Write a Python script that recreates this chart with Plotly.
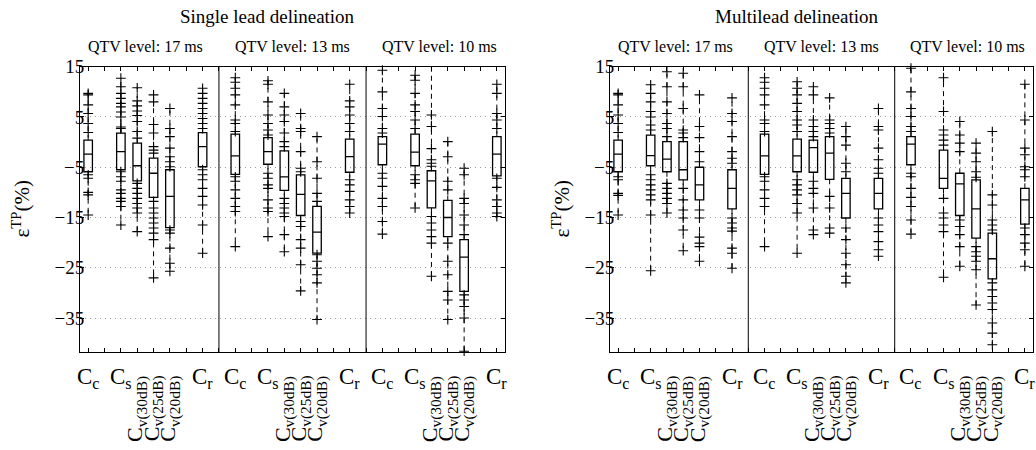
import plotly.graph_objects as go

# ---------------- data ----------------
PANEL_TITLES = ["Single lead delineation", "Multilead delineation"]
LEVELS = ["QTV level: 17 ms", "QTV level: 13 ms", "QTV level: 10 ms"]
METHODS = ["C<sub>c</sub>", "C<sub>s</sub>", "C<sub>v(30dB)</sub>",
           "C<sub>v(25dB)</sub>", "C<sub>v(20dB)</sub>", "C<sub>r</sub>"]
ROTATED = [False, False, True, True, True, False]
SLOTS = [1, 3, 4, 5, 6, 8]
GROUP_WIDTH = 9
Y_TICKS = [-35, -25, -15, -5, 5, 15]

# order: 17 ms [Cc, Cs, Cv30, Cv25, Cv20, Cr], 13 ms [...], 10 ms [...]
SINGLE_Q1 = [-5.9, -5.5, -7.7, -11.0, -17.0, -4.9,
             -6.4, -4.4, -9.6, -14.6, -22.1, -6.0,
             -4.5, -4.7, -13.1, -18.8, -29.7, -6.7]
SINGLE_MED = [-2.4, -1.9, -4.7, -6.2, -10.8, -0.9,
              -2.75, -1.9, -6.9, -10.4, -17.9, -2.9,
              -0.4, -2.0, -7.7, -15.0, -22.9, -2.4]
SINGLE_Q3 = [0.4, 1.8, -0.2, -3.2, -5.5, 1.9,
             1.6, 0.9, -1.75, -6.5, -12.8, 0.6,
             1.1, 1.6, -5.7, -11.6, -19.4, 1.1]
SINGLE_OUT = [
    [9.7, 9.4, 7.4, 5.7, 3.7, 1.9, -6.5, -7.2, -10.0, -10.5, -14.5],
    [12.7, 11.0, 9.7, 8.7, 7.7, 7.0, 6.0, 5.0, 3.0, 2.7, -5.9, -6.9, -7.8, -9.5, -10.2, -11.2, -11.8, -12.8, -16.5],
    [10.8, 8.2, 7.2, 6.2, 5.3, 4.1, 2.1, 0.8, -8.2, -9.2, -10.2, -11.2, -12.2, -13.1, -14.1, -17.8],
    [9.4, 8.0, 3.5, 1.8, -0.9, -1.6, -2.2, -11.8, -13.1, -14.1, -15.1, -16.1, -17.1, -18.1, -19.4, -27.0],
    [6.7, 2.7, 1.1, -1.2, -2.9, -3.9, -4.9, -17.5, -18.1, -21.1, -24.1, -25.7],
    [10.7, 9.7, 8.7, 7.7, 6.7, 5.7, 4.7, 3.7, 2.7, -5.5, -6.5, -7.5, -9.2, -10.8, -12.5, -16.5, -22.1],
    [12.8, 11.9, 10.7, 9.4, 7.4, 4.4, 3.7, 2.1, -6.9, -7.8, -9.5, -11.2, -12.8, -13.8, -20.8],
    [12.2, 11.5, 8.0, 5.4, 3.7, 2.4, 1.4, -6.2, -7.2, -8.5, -9.2, -11.5, -13.1, -13.8, -18.8],
    [9.7, 7.0, 5.4, 4.1, 1.8, 0.1, -0.9, -11.2, -12.2, -13.1, -14.1, -14.8, -18.4, -21.8],
    [5.7, 2.7, 2.1, -1.9, -5.2, -5.9, -15.8, -16.8, -19.4, -21.1, -24.4, -29.6],
    [1.1, -3.9, -7.2, -10.2, -11.8, -22.4, -23.7, -25.1, -26.4, -28.0, -35.3],
    [11.5, 8.2, 7.0, 5.4, 3.7, 2.1, -7.5, -8.5, -9.8, -11.5, -12.8, -14.1],
    [14.3, 10.0, 6.7, 5.1, 2.7, 1.8, -6.2, -7.2, -8.8, -11.2, -12.8, -15.8, -18.3],
    [13.3, 12.3, 9.7, 7.4, 6.1, 4.4, 2.7, -6.5, -7.5, -8.2, -13.1],
    [15.3, 5.4, 3.1, -1.3, -3.5, -4.2, -4.8, -14.8, -16.1, -17.5, -18.8, -20.1, -26.7],
    [0.1, -2.9, -7.8, -9.5, -20.1, -23.7, -26.4, -29.7, -31.4, -35.3],
    [-5.2, -6.5, -11.2, -12.2, -14.5, -16.5, -18.4, -30.4, -31.4, -32.7, -35.0, -41.6],
    [11.5, 9.7, 5.7, 4.4, 2.7, -7.2, -9.0, -11.5, -12.8, -14.1, -14.8],
]

MULTI_Q1 = [-5.9, -4.7, -5.9, -7.5, -11.5, -13.3,
            -6.4, -5.9, -6.0, -7.4, -15.1, -13.3,
            -4.5, -9.2, -14.6, -19.1, -27.2, -16.3]
MULTI_MED = [-2.4, -2.7, -3.4, -5.5, -8.5, -9.2,
             -2.75, -2.75, -1.1, -2.2, -10.2, -10.2,
             -0.4, -7.2, -8.3, -13.3, -23.2, -11.5]
MULTI_Q3 = [0.4, 1.4, 0.1, 0.1, -5.0, -5.5,
            1.6, 0.6, 0.4, 1.1, -7.2, -7.2,
            1.1, -1.6, -6.2, -7.5, -18.1, -9.2]
MULTI_OUT = [
    [9.7, 9.4, 7.4, 5.4, 3.7, 1.9, -6.9, -7.5, -10.2, -10.6, -14.5],
    [11.4, 9.7, 8.0, 6.1, 5.0, 3.4, 2.4, -6.5, -7.5, -8.5, -9.5, -10.5, -11.5, -14.5, -25.6],
    [14.0, 11.0, 8.0, 5.7, 3.7, 2.7, 1.1, -8.2, -9.2, -10.2, -11.2, -12.2, -14.1],
    [13.7, 11.0, 6.7, 2.4, 1.8, 0.9, -9.2, -11.5, -13.5, -15.1, -17.5, -21.6],
    [9.4, 3.1, 0.9, -1.9, -3.9, -13.5, -15.1, -18.9, -20.1, -20.8, -23.7],
    [8.8, 5.7, 4.1, 1.1, -1.9, -3.2, -4.2, -15.1, -16.1, -17.1, -17.7, -21.1, -22.1, -25.1],
    [12.8, 11.9, 10.7, 9.4, 7.4, 4.4, 3.7, 2.1, -6.9, -7.8, -9.5, -11.2, -12.8, -20.8],
    [12.0, 10.7, 9.4, 7.7, 6.1, 4.4, 3.4, 2.1, -7.5, -8.5, -9.5, -10.5, -12.2, -14.1, -22.1],
    [11.0, 9.4, 4.4, 3.1, 2.1, 1.1, -7.8, -9.2, -10.2, -13.1, -17.5, -18.4],
    [8.8, 4.4, 3.7, 2.7, 1.8, -10.8, -13.1, -17.1, -18.1],
    [3.1, 1.1, -0.6, -4.2, -5.9, -17.1, -19.4, -22.1, -24.4, -26.7, -28.0],
    [6.7, 3.1, 2.4, -1.2, -3.5, -5.2, -6.2, -15.1, -16.5, -17.8, -19.8, -21.4, -22.7],
    [14.7, 10.0, 6.7, 5.1, 3.1, 2.1, -6.2, -6.9, -9.2, -11.0, -12.8, -15.5, -18.3],
    [12.8, 6.1, 2.4, 1.4, 0.4, -0.6, -11.2, -14.1, -15.1, -16.5, -17.8, -26.9],
    [4.1, 1.4, -0.2, -1.9, -15.5, -16.8, -18.4, -20.8, -24.7],
    [-0.2, -2.2, -3.9, -5.9, -7.0, -20.8, -21.8, -22.7, -23.7, -25.4, -32.4],
    [2.1, -10.5, -12.5, -15.5, -16.5, -17.5, -28.0, -29.4, -30.7, -32.0, -33.3, -36.0, -38.0, -40.3],
    [11.5, 4.4, -1.2, -2.5, -4.9, -5.5, -6.9, -17.1, -18.4, -20.1, -21.4, -24.7],
]

# ---------------- layout helpers ----------------
W, H = 1036, 450
FONT = "Liberation Serif, Times New Roman, serif"
PANELS = [
    dict(title=PANEL_TITLES[0], q1=SINGLE_Q1, med=SINGLE_MED, q3=SINGLE_Q3, out=SINGLE_OUT,
         xpx=(80, 505), title_x=267, ylab_x=21),
    dict(title=PANEL_TITLES[1], q1=MULTI_Q1, med=MULTI_MED, q3=MULTI_Q3, out=MULTI_OUT,
         xpx=(610, 1033), title_x=797, ylab_x=561),
]
YPX = (58, 350)  # top, bottom pixel of plot area
Y_RANGE = [-41.8, 15]
X_RANGE = [0.5, 26.5]

positions = [g * GROUP_WIDTH + s for g in range(len(LEVELS)) for s in SLOTS]
dividers = [g * GROUP_WIDTH for g in range(1, len(LEVELS))]

fig = go.Figure()
annotations = []
shapes = []

for i, p in enumerate(PANELS):
    xa = "x" if i == 0 else "x2"
    ya = "y" if i == 0 else "y2"

    # whiskers (dashed)
    wx, wy = [], []
    for pos, q1, q3, pts in zip(positions, p["q1"], p["q3"], p["out"]):
        hi = max([q3] + pts)
        lo = min([q1] + pts)
        wx += [pos, pos, None, pos, pos, None]
        wy += [q3, hi, None, q1, lo, None]
    fig.add_trace(go.Scatter(x=wx, y=wy, mode="lines", xaxis=xa, yaxis=ya,
                             line=dict(color="black", width=1, dash="5px,4px"),
                             showlegend=False, hoverinfo="skip", cliponaxis=False))

    # boxes
    fig.add_trace(go.Box(x=positions, q1=p["q1"], median=p["med"], q3=p["q3"],
                         lowerfence=p["q1"], upperfence=p["q3"], width=0.52,
                         whiskerwidth=0, line=dict(color="black", width=1.3),
                         fillcolor="rgba(0,0,0,0)", xaxis=xa, yaxis=ya,
                         showlegend=False, hoverinfo="skip"))

    # outliers '+'
    mx, my = [], []
    for pos, pts in zip(positions, p["out"]):
        mx += [pos] * len(pts)
        my += pts
    fig.add_trace(go.Scatter(x=mx, y=my, mode="markers", xaxis=xa, yaxis=ya,
                             marker=dict(symbol="cross-thin", size=7, color="black",
                                         line=dict(color="black", width=1.1)),
                             showlegend=False, hoverinfo="skip", cliponaxis=False))

    # group dividers
    for d in dividers:
        shapes.append(dict(type="line", xref=xa, yref=f"{ya} domain", x0=d, x1=d, y0=0, y1=1,
                           line=dict(color="black", width=1)))

    # panel title
    annotations.append(dict(text=p["title"], xref="paper", yref="paper",
                            x=p["title_x"] / W, y=1 - 7 / H, xanchor="center", yanchor="middle",
                            showarrow=False, font=dict(family=FONT, size=19, color="black")))
    # level titles
    for g, lvl in enumerate(LEVELS):
        annotations.append(dict(text=lvl, xref=xa, yref="paper", x=g * GROUP_WIDTH + 4.5,
                                y=1 - 37 / H, xanchor="center", yanchor="middle",
                                showarrow=False, font=dict(family=FONT, size=16, color="black")))
    # y label
    annotations.append(dict(text="ε<sup>TP</sup>(%)", xref="paper", yref="paper",
                            x=p["ylab_x"] / W, y=1 - 204 / H, xanchor="center", yanchor="middle",
                            textangle=-90, showarrow=False,
                            font=dict(family=FONT, size=21, color="black")))
    # category labels
    for g in range(len(LEVELS)):
        for m, s, rot in zip(METHODS, SLOTS, ROTATED):
            if rot:
                annotations.append(dict(text=m, xref=xa, yref="paper", x=g * GROUP_WIDTH + s,
                                        y=1 - 372 / H, xanchor="center", yanchor="top",
                                        textangle=-90, showarrow=False,
                                        font=dict(family=FONT, size=22, color="black")))
            else:
                annotations.append(dict(text=m, xref=xa, yref="paper", x=g * GROUP_WIDTH + s,
                                        y=1 - 360 / H, xanchor="center", yanchor="top",
                                        showarrow=False,
                                        font=dict(family=FONT, size=23, color="black")))

axis_common = dict(showline=True, linecolor="black", linewidth=1, mirror="ticks",
                   ticks="inside", ticklen=4, tickcolor="black", zeroline=False)

ydom = [1 - YPX[1] / H, 1 - YPX[0] / H]
layout = dict(
    width=W, height=H, margin=dict(l=0, r=0, t=0, b=0),
    paper_bgcolor="white", plot_bgcolor="white",
    annotations=annotations, shapes=shapes, showlegend=False,
    font=dict(family=FONT, color="black"),
)
for i, p in enumerate(PANELS):
    sfx = "" if i == 0 else "2"
    layout["xaxis" + sfx] = dict(axis_common, domain=[p["xpx"][0] / W, p["xpx"][1] / W],
                                 range=X_RANGE, tickvals=list(range(1, 27)),
                                 showticklabels=False, showgrid=False,
                                 anchor="y" + sfx)
    layout["yaxis" + sfx] = dict(axis_common, domain=ydom, range=Y_RANGE,
                                 tickvals=Y_TICKS, showgrid=True, gridcolor="#9a9a9a",
                                 griddash="1px,4px", gridwidth=1, ticklabelstandoff=-9,
                                 tickfont=dict(family=FONT, size=19, color="black"),
                                 anchor="x" + sfx)

fig.update_layout(**layout)
post = ("document.documentElement.style.margin='0';document.body.style.margin='0';"
        "document.body.style.overflow='hidden';"
        "var gd=document.getElementsByClassName('plotly-graph-div')[0];"
        "gd.style.position='absolute';gd.style.top='0px';gd.style.left='0px';")
fig.write_html("out.html", config={"displayModeBar": False}, post_script=post)
